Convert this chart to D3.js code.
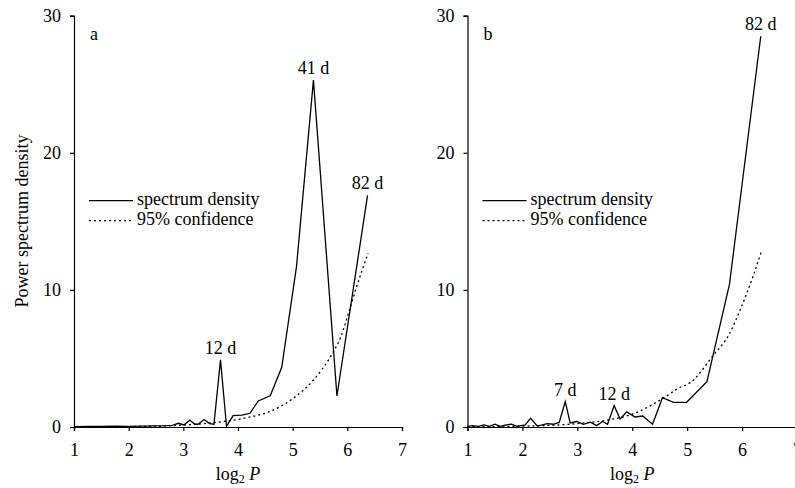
<!DOCTYPE html>
<html>
<head>
<meta charset="utf-8">
<script src="https://cdn.jsdelivr.net/npm/d3@7"></script>
<style>
  body { margin: 0; background: #fff; }
  svg { display: block; overflow: hidden; }
  text { font-family: "Liberation Serif", "Times New Roman", serif; fill: #000; }
  .axis path, .axis line { stroke: #000; stroke-width: 1.2; }
  .axis text { font-size: 18px; font-family: "Liberation Serif", serif; }
</style>
</head>
<body>
<div id="chart-container"></div>
<script>
// Datos (log2 P, densidad espectral)
const aX    = [1.00, 1.25, 1.50, 1.75, 2.00, 2.25, 2.50, 2.70, 2.80, 2.91, 3.01, 3.12, 3.21, 3.27, 3.38, 3.48, 3.56, 3.68, 3.79, 3.91, 4.07, 4.22, 4.37, 4.59, 4.80, 5.07, 5.38, 5.81, 6.37];
const aSpec = [0.03, 0.05, 0.04, 0.06, 0.05, 0.06, 0.08, 0.10, 0.12, 0.27, 0.15, 0.50, 0.20, 0.20, 0.55, 0.25, 0.20, 4.90, 0.05, 0.83, 0.87, 1.00, 1.90, 2.28, 4.35, 11.7, 25.3, 2.26, 16.9];
const aConfX = [1.00, 2.00, 3.00, 3.50, 4.10, 4.62, 5.01, 5.38, 5.71, 5.87, 6.02, 6.17, 6.38];
const aConf  = [0.01, 0.03, 0.14, 0.30, 0.63, 1.19, 2.09, 3.43, 5.25, 6.47, 8.29, 10.23, 12.67];

const bX    = [1.00, 1.10, 1.20, 1.30, 1.40, 1.50, 1.60, 1.70, 1.80, 1.90, 2.05, 2.15, 2.27, 2.36, 2.45, 2.56, 2.67, 2.78, 2.87, 2.99, 3.11, 3.24, 3.35, 3.46, 3.55, 3.67, 3.78, 3.90, 4.05, 4.19, 4.37, 4.55, 4.75, 4.99, 5.36, 5.77, 6.34];
const bSpec = [0.05, 0.10, 0.05, 0.15, 0.05, 0.20, 0.05, 0.15, 0.20, 0.05, 0.15, 0.63, 0.07, 0.15, 0.25, 0.20, 0.33, 1.85, 0.30, 0.40, 0.20, 0.35, 0.10, 0.40, 0.20, 1.55, 0.58, 1.10, 0.73, 0.80, 0.20, 2.14, 1.80, 1.80, 3.30, 10.4, 28.5];
const bConfX = [1.00, 2.00, 3.00, 3.54, 4.02, 4.50, 4.93, 5.00, 5.48, 5.77, 5.96, 6.20, 6.36];
const bConf  = [0.02, 0.06, 0.25, 0.50, 0.96, 1.94, 3.00, 3.10, 5.25, 6.80, 8.50, 11.0, 12.9];

// Etiquetas de picos (periodo, posición log2 P del pico)
const aPeaks = [["12 d", 3.68], ["41 d", 5.38], ["82 d", 6.37]];
const bPeaks = [["7 d", 2.78], ["12 d", 3.67], ["82 d", 6.34]];

const xTicks = [1, 2, 3, 4, 5, 6, 7];
const yTicks = [0, 10, 20, 30];
const legendItems = ["spectrum density", "95% confidence"];

// 1. Configuración
const W = 795, H = 488;
const yTop = 15.7, yBottom = 427;

const svg = d3.select("#chart-container").append("svg")
    .attr("width", W)
    .attr("height", H);

const y = d3.scaleLinear().domain([0, 30]).range([yBottom, yTop]);

const line = d3.line()
    .x(d => d.sx)
    .y(d => y(d.v));

function drawPanel(left, right, name, xs, spec, confX, conf, peaks) {
    const x = d3.scaleLinear().domain([1, 7]).range([left, right]);
    const g = svg.append("g");

    // Ejes
    g.append("g")
        .attr("class", "axis")
        .attr("transform", `translate(0,${yBottom})`)
        .call(d3.axisBottom(x).tickValues(xTicks).tickSize(4).tickPadding(12).tickFormat(d3.format("d")));

    g.append("g")
        .attr("class", "axis")
        .attr("transform", `translate(${left},0)`)
        .call(d3.axisLeft(y).tickValues(yTicks).tickSize(4).tickPadding(9));

    // Curva de confianza (punteada)
    const confData = confX.map((d, i) => ({ sx: x(d), v: conf[i] }));
    g.append("path")
        .datum(confData)
        .attr("fill", "none")
        .attr("stroke", "#000")
        .attr("stroke-width", 1.3)
        .attr("stroke-dasharray", "2,3")
        .attr("d", line.curve(d3.curveMonotoneX));

    // Densidad espectral
    const specData = xs.map((d, i) => ({ sx: x(d), v: spec[i] }));
    g.append("path")
        .datum(specData)
        .attr("fill", "none")
        .attr("stroke", "#000")
        .attr("stroke-width", 1.3)
        .attr("stroke-linejoin", "miter")
        .attr("d", line.curve(d3.curveLinear));

    // Etiquetas de picos
    g.selectAll(".peak")
        .data(peaks)
        .enter()
        .append("text")
        .attr("class", "peak")
        .attr("x", d => x(d[1]))
        .attr("y", d => y(spec[xs.indexOf(d[1])]) - 6)
        .attr("text-anchor", "middle")
        .attr("font-size", 18)
        .text(d => d[0]);

    // Letra del panel
    g.append("text")
        .attr("x", left + 16)
        .attr("y", 40)
        .attr("font-size", 18)
        .text(name);

    // Leyenda
    const leg = g.append("g").attr("transform", `translate(${left + 15},200.7)`);
    legendItems.forEach((label, i) => {
        leg.append("line")
            .attr("x1", 0).attr("x2", 44)
            .attr("y1", i * 20).attr("y2", i * 20)
            .attr("stroke", "#000")
            .attr("stroke-width", 1.3)
            .attr("stroke-dasharray", i === 1 ? "2,3" : null);
        leg.append("text")
            .attr("x", 48)
            .attr("y", i * 20 + 4)
            .attr("font-size", 18)
            .text(label);
    });

    // Título eje X: log2 P
    const xl = g.append("text")
        .attr("x", (left + right) / 2)
        .attr("y", 480)
        .attr("text-anchor", "middle")
        .attr("font-size", 18);
    xl.append("tspan").text("log");
    xl.append("tspan").attr("font-size", 12).attr("dy", 3).text("2");
    xl.append("tspan").attr("dy", -3).text(" ");
    xl.append("tspan").attr("font-style", "italic").text("P");
}

drawPanel(74, 402, "a", aX, aSpec, aConfX, aConf, aPeaks);
drawPanel(467.5, 797, "b", bX, bSpec, bConfX, bConf, bPeaks);

// Título eje Y
svg.append("text")
    .attr("transform", "translate(28,221) rotate(-90)")
    .attr("text-anchor", "middle")
    .attr("font-size", 18)
    .text("Power spectrum density");
</script>
</body>
</html>
